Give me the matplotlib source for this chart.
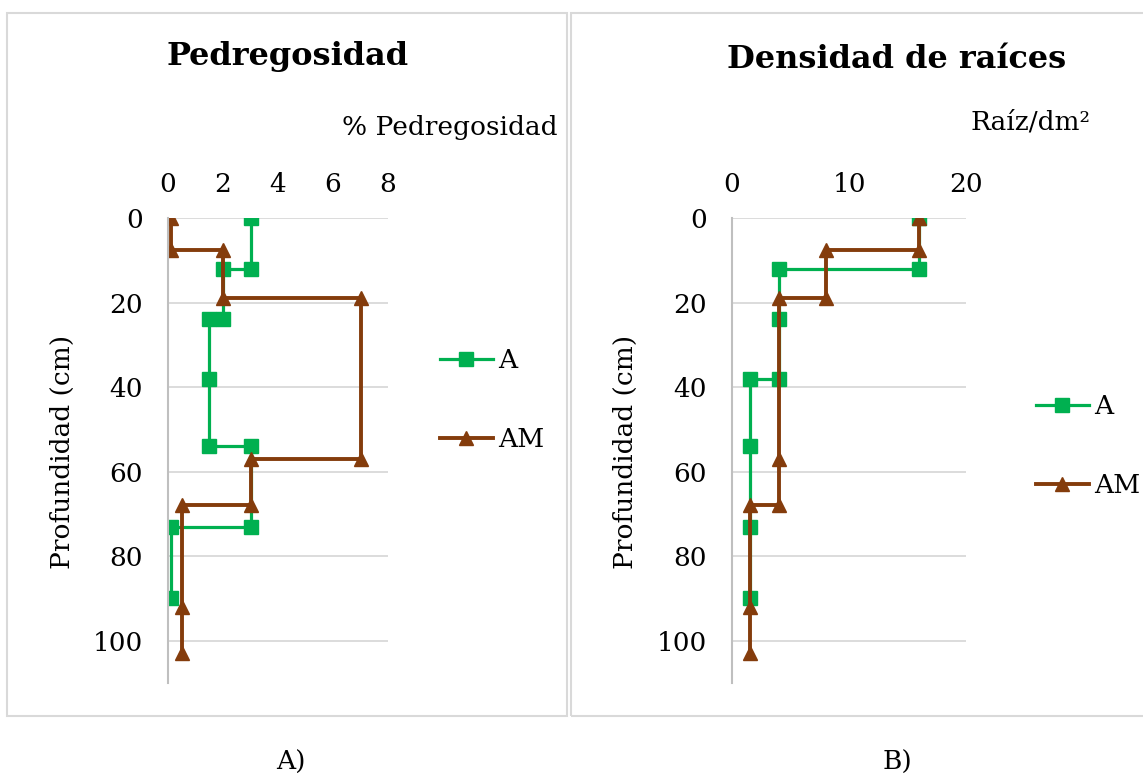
import matplotlib
matplotlib.use("Agg")
import matplotlib.pyplot as plt
from matplotlib.patches import Rectangle

# Pedregosidad (% ) vs profundidad (cm)
ped_a_x = [3, 3, 2, 2, 1.5, 1.5, 1.5, 3, 3, 0.1, 0.1]
ped_a_y = [0, 12, 12, 24, 24, 38, 54, 54, 73, 73, 90]
ped_am_x = [0.1, 0.1, 2, 2, 7, 7, 3, 3, 0.5, 0.5, 0.5]
ped_am_y = [0, 7.5, 7.5, 19, 19, 57, 57, 68, 68, 92, 103]

# Densidad de raices (raiz/dm2) vs profundidad (cm)
raiz_a_x = [16, 16, 4, 4, 4, 1.5, 1.5, 1.5, 1.5]
raiz_a_y = [0, 12, 12, 24, 38, 38, 54, 73, 90]
raiz_am_x = [16, 16, 8, 8, 4, 4, 4, 1.5, 1.5, 1.5]
raiz_am_y = [0, 7.5, 7.5, 19, 19, 57, 68, 68, 92, 103]

depth_ticks = [0, 20, 40, 60, 80, 100]
ped_ticks = [0, 2, 4, 6, 8]
raiz_ticks = [0, 10, 20]

GREEN = "#00B050"
BROWN = "#843C0C"
GRID = "#d9d9d9"
FONT = "DejaVu Serif"

W, H = 1143, 776
plt.rcParams['font.family'] = FONT

fig = plt.figure(figsize=(W / 100, H / 100), dpi=100)


def fx(px):
    return px / W


def fy(py):
    return 1 - py / H


# panel borders
for x0, x1 in [(7, 567), (571, 1150)]:
    fig.patches.append(Rectangle((fx(x0), fy(716)), fx(x1 - x0), (716 - 13) / H,
                                 transform=fig.transFigure, fill=False,
                                 edgecolor=GRID, lw=1.5))


def panel(rect, ax_x, ay, bx, by, xmax, xticks, leg_anchor):
    ax = fig.add_axes(rect)
    ax.plot(ax_x, ay, color=GREEN, lw=2.3, marker="s", ms=10, label="A")
    ax.plot(bx, by, color=BROWN, lw=2.8, marker="^", ms=10, label="AM")
    ax.set_xlim(0, xmax)
    ax.set_ylim(110, 0)
    ax.set_xticks(xticks)
    ax.set_yticks(depth_ticks)
    ax.xaxis.tick_top()
    ax.tick_params(axis="x", length=0, pad=15, labelsize=19)
    ax.tick_params(axis="y", length=0, pad=18, labelsize=19)
    ax.grid(axis="y", color=GRID, lw=1.3)
    ax.set_axisbelow(True)
    for s in ["top", "right", "bottom"]:
        ax.spines[s].set_visible(False)
    ax.spines["left"].set_color("#bfbfbf")
    ax.spines["left"].set_linewidth(1.5)
    ax.legend(loc="center left", bbox_to_anchor=leg_anchor,
              bbox_transform=fig.transFigure, frameon=False, fontsize=19,
              handlelength=2.0, handletextpad=0.2, labelspacing=2.05,
              borderpad=0, borderaxespad=0)
    return ax


panel([fx(168), fy(683), fx(388 - 168), (683 - 218) / H],
      ped_a_x, ped_a_y, ped_am_x, ped_am_y, 8, ped_ticks, (fx(440), fy(400)))
panel([fx(732), fy(683), fx(966 - 732), (683 - 218) / H],
      raiz_a_x, raiz_a_y, raiz_am_x, raiz_am_y, 20, raiz_ticks, (fx(1036), fy(446)))

fig.text(fx(288), fy(57), "Pedregosidad", ha="center", va="center",
         fontsize=23, fontweight="bold")
fig.text(fx(897), fy(60), "Densidad de raíces", ha="center", va="center",
         fontsize=23, fontweight="bold")
fig.text(fx(557), fy(128), "% Pedregosidad", ha="right", va="center", fontsize=19)
fig.text(fx(970), fy(122), "Raíz/dm²", ha="left", va="center", fontsize=19)
for x in [62, 625]:
    fig.text(fx(x), fy(452), "Profundidad (cm)", ha="center", va="center",
             rotation=90, fontsize=19)
fig.text(fx(291), fy(762), "A)", ha="center", va="center", fontsize=19)
fig.text(fx(897), fy(762), "B)", ha="center", va="center", fontsize=19)

fig.savefig("out.png", dpi=100)
